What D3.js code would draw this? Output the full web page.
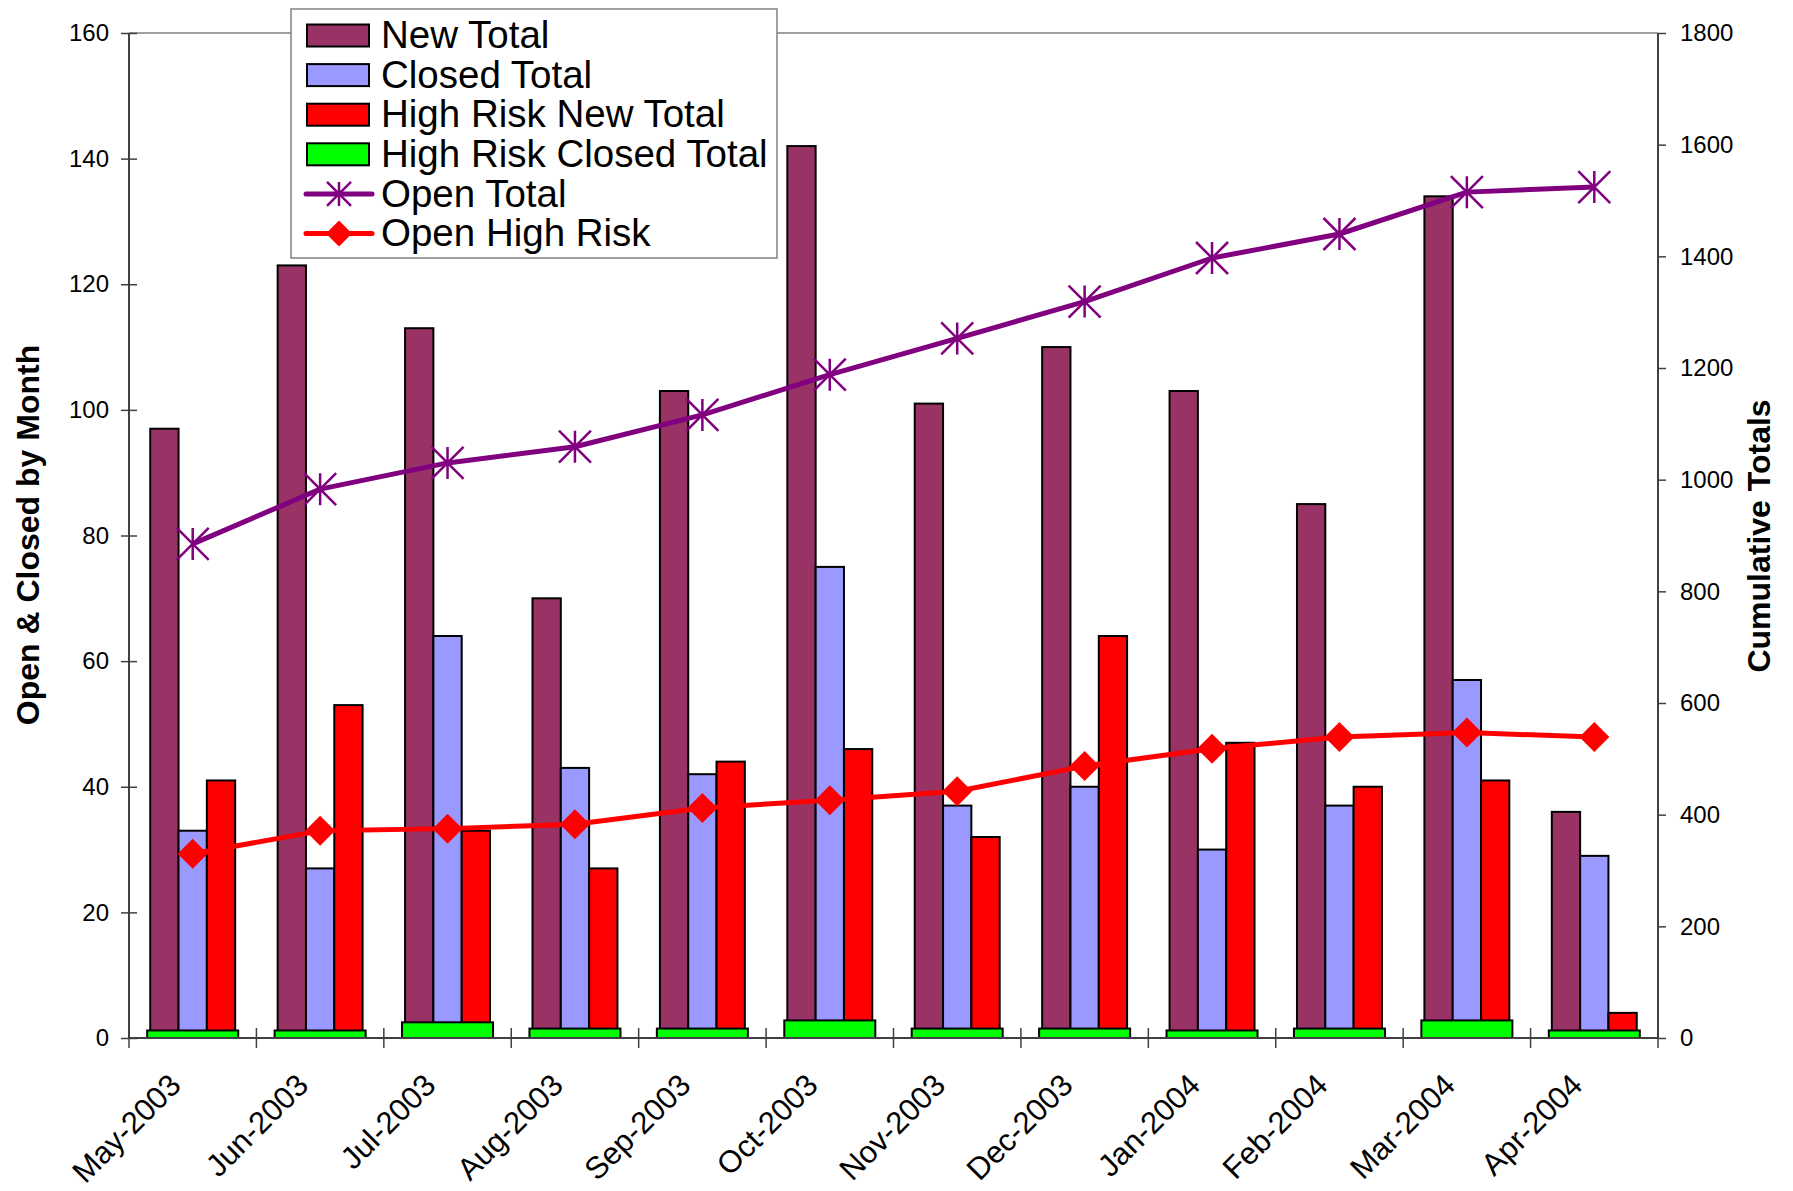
<!DOCTYPE html>
<html>
<head>
<meta charset="utf-8">
<script src="https://cdn.jsdelivr.net/npm/d3@7"></script>
<style>
  html, body { margin: 0; padding: 0; background: #fff; }
  svg { display: block; font-family: "Liberation Sans", Arial, sans-serif; }
</style>
</head>
<body>
<svg id="chart" width="1793" height="1191"></svg>
<script>
const months = ["May-2003","Jun-2003","Jul-2003","Aug-2003","Sep-2003","Oct-2003","Nov-2003","Dec-2003","Jan-2004","Feb-2004","Mar-2004","Apr-2004"];
const newTotal = [97,123,113,70,103,142,101,110,103,85,134,36];
const closedTotal = [33,27,64,43,42,75,37,40,30,37,57,29];
const highRiskNew = [41,53,33,27,44,46,32,64,47,40,41,4];
const highRiskClosed = [1.2,1.2,2.5,1.5,1.5,2.8,1.5,1.5,1.2,1.5,2.8,1.2];
const openTotal = [885,983,1030,1059,1116,1188,1253,1319,1397,1440,1515,1524];
const openHighRisk = [330,371,375,383,412,426,442,487,518,539,547,539];
const leftTicks = [0,20,40,60,80,100,120,140,160];
const rightTicks = [0,200,400,600,800,1000,1200,1400,1600,1800];

const svg = d3.select("#chart");
const L = 129, R = 1658, T = 33, B = 1038;

const x = d3.scaleBand().domain(months).range([L, R]).paddingInner(0).paddingOuter(0);
const barKeys = ["new","closed","hrNew"];
const xSub = d3.scaleBand().domain(barKeys).range([0, x.bandwidth()]).paddingInner(0).paddingOuter(0.75);
const xGreen = d3.scaleBand().domain(["g"]).range([0, x.bandwidth()]).paddingInner(0).paddingOuter(0.2);
const yL = d3.scaleLinear().domain([0,160]).range([B, T]);
const yR = d3.scaleLinear().domain([0,1800]).range([B, T]);

const colors = {new: "#993366", closed: "#9999FF", hrNew: "#FF0000", hrClosed: "#00FF00", openTotal: "#800080", openHR: "#FF0000"};
const seriesData = {new: newTotal, closed: closedTotal, hrNew: highRiskNew};

// plot area top border
svg.append("line").attr("x1", L).attr("x2", R).attr("y1", T).attr("y2", T)
  .attr("stroke", "#808080").attr("stroke-width", 1.5);

// bars
barKeys.forEach(k => {
  svg.append("g").selectAll("rect").data(months).join("rect")
    .attr("x", (m) => x(m) + xSub(k))
    .attr("width", xSub.bandwidth())
    .attr("y", (m, i) => yL(seriesData[k][i]))
    .attr("height", (m, i) => yL(0) - yL(seriesData[k][i]))
    .attr("fill", colors[k]).attr("stroke", "#000").attr("stroke-width", 2);
});
svg.append("g").selectAll("rect").data(months).join("rect")
  .attr("x", (m) => x(m) + xGreen("g"))
  .attr("width", xGreen.bandwidth())
  .attr("y", (m, i) => yL(highRiskClosed[i]))
  .attr("height", (m, i) => yL(0) - yL(highRiskClosed[i]))
  .attr("fill", colors.hrClosed).attr("stroke", "#000").attr("stroke-width", 2);

// axes
const axisColor = "#404040";
const gL = svg.append("g").attr("transform", `translate(${L},0)`)
  .call(d3.axisLeft(yL).tickValues(leftTicks).tickFormat(d3.format("d")).tickSize(0).tickPadding(20));
gL.select(".domain").remove();
gL.selectAll("text").attr("font-size", 24).attr("fill", "#000").attr("font-family", "Liberation Sans, Arial, sans-serif");
gL.selectAll(".tick").append("line").attr("x1", -8).attr("x2", 8).attr("stroke", axisColor).attr("stroke-width", 1.5);
svg.append("line").attr("x1", L).attr("x2", L).attr("y1", T).attr("y2", B).attr("stroke", axisColor).attr("stroke-width", 2);

const gR = svg.append("g").attr("transform", `translate(${R},0)`)
  .call(d3.axisRight(yR).tickValues(rightTicks).tickFormat(d3.format("d")).tickSize(0).tickPadding(22));
gR.select(".domain").remove();
gR.selectAll("text").attr("font-size", 24).attr("fill", "#000").attr("font-family", "Liberation Sans, Arial, sans-serif");
gR.selectAll(".tick").append("line").attr("x1", 0).attr("x2", 8).attr("stroke", axisColor).attr("stroke-width", 1.5);
svg.append("line").attr("x1", R).attr("x2", R).attr("y1", T).attr("y2", B).attr("stroke", axisColor).attr("stroke-width", 2);

// bottom axis
svg.append("line").attr("x1", L).attr("x2", R).attr("y1", B).attr("y2", B).attr("stroke", axisColor).attr("stroke-width", 2);
const tickPositions = months.map(m => x(m)).concat([R]);
svg.append("g").selectAll("line").data(tickPositions).join("line")
  .attr("x1", d => d).attr("x2", d => d).attr("y1", B - 10).attr("y2", B + 10)
  .attr("stroke", axisColor).attr("stroke-width", 1.5);
svg.append("g").selectAll("text").data(months).join("text")
  .attr("transform", m => `translate(${x(m) + x.bandwidth()/2 - 10},${B + 49}) rotate(-45)`)
  .attr("text-anchor", "end")
  .attr("font-size", 31).attr("fill", "#000")
  .text(m => m);

// lines
const lineGen = (scale, vals) => d3.line()
  .x((d, i) => x(months[i]) + x.bandwidth()/2)
  .y(d => scale(d))(vals);
svg.append("path").attr("d", lineGen(yR, openTotal)).attr("fill", "none")
  .attr("stroke", colors.openTotal).attr("stroke-width", 5).attr("stroke-linejoin", "round");
svg.append("path").attr("d", lineGen(yR, openHighRisk)).attr("fill", "none")
  .attr("stroke", colors.openHR).attr("stroke-width", 5).attr("stroke-linejoin", "round");

const starPath = (s) => `M0,${-s}L0,${s}M${-s},${-s}L${s},${s}M${-s},${s}L${s},${-s}`;
const diamondPath = (s) => `M0,${-s}L${s},0L0,${s}L${-s},0Z`;
svg.append("g").selectAll("path").data(openTotal).join("path")
  .attr("transform", (d, i) => `translate(${x(months[i]) + x.bandwidth()/2},${yR(d)})`)
  .attr("d", starPath(16)).attr("stroke", colors.openTotal).attr("stroke-width", 2.5).attr("fill", "none");
svg.append("g").selectAll("path").data(openHighRisk).join("path")
  .attr("transform", (d, i) => `translate(${x(months[i]) + x.bandwidth()/2},${yR(d)})`)
  .attr("d", diamondPath(15)).attr("fill", colors.openHR);

// axis titles
svg.append("text").attr("transform", `translate(39,535) rotate(-90)`)
  .attr("text-anchor", "middle").attr("font-size", 32).attr("font-weight", "bold").attr("fill", "#000")
  .text("Open & Closed by Month");
svg.append("text").attr("transform", `translate(1770,536) rotate(-90)`)
  .attr("text-anchor", "middle").attr("font-size", 32).attr("font-weight", "bold").attr("fill", "#000")
  .text("Cumulative Totals");

// legend
const legendItems = [
  {label: "New Total", type: "bar", color: colors.new},
  {label: "Closed Total", type: "bar", color: colors.closed},
  {label: "High Risk New Total", type: "bar", color: colors.hrNew},
  {label: "High Risk Closed Total", type: "bar", color: colors.hrClosed},
  {label: "Open Total", type: "star", color: colors.openTotal},
  {label: "Open High Risk", type: "diamond", color: colors.openHR}
];
const lg = svg.append("g");
lg.append("rect").attr("x", 291).attr("y", 9).attr("width", 486).attr("height", 249)
  .attr("fill", "#fff").attr("stroke", "#808080").attr("stroke-width", 1.5);
const items = lg.selectAll("g").data(legendItems).join("g")
  .attr("transform", (d, i) => `translate(0,${35.5 + i * 39.6})`);
items.each(function(d) {
  const g = d3.select(this);
  if (d.type === "bar") {
    g.append("rect").attr("x", 307).attr("y", -11).attr("width", 62).attr("height", 22)
      .attr("fill", d.color).attr("stroke", "#000").attr("stroke-width", 2);
  } else {
    g.append("line").attr("x1", 306).attr("x2", 372).attr("y1", 0).attr("y2", 0)
      .attr("stroke", d.color).attr("stroke-width", 5).attr("stroke-linecap", "round");
    if (d.type === "star") {
      g.append("path").attr("transform", "translate(339,0)").attr("d", starPath(12))
        .attr("stroke", d.color).attr("stroke-width", 2.5).attr("fill", "none");
    } else {
      g.append("path").attr("transform", "translate(339,0)").attr("d", diamondPath(13)).attr("fill", d.color);
    }
  }
  g.append("text").attr("x", 381).attr("y", 0).attr("dy", "0.33em")
    .attr("font-size", 38.5).attr("fill", "#000").text(d.label);
});
</script>
</body>
</html>
